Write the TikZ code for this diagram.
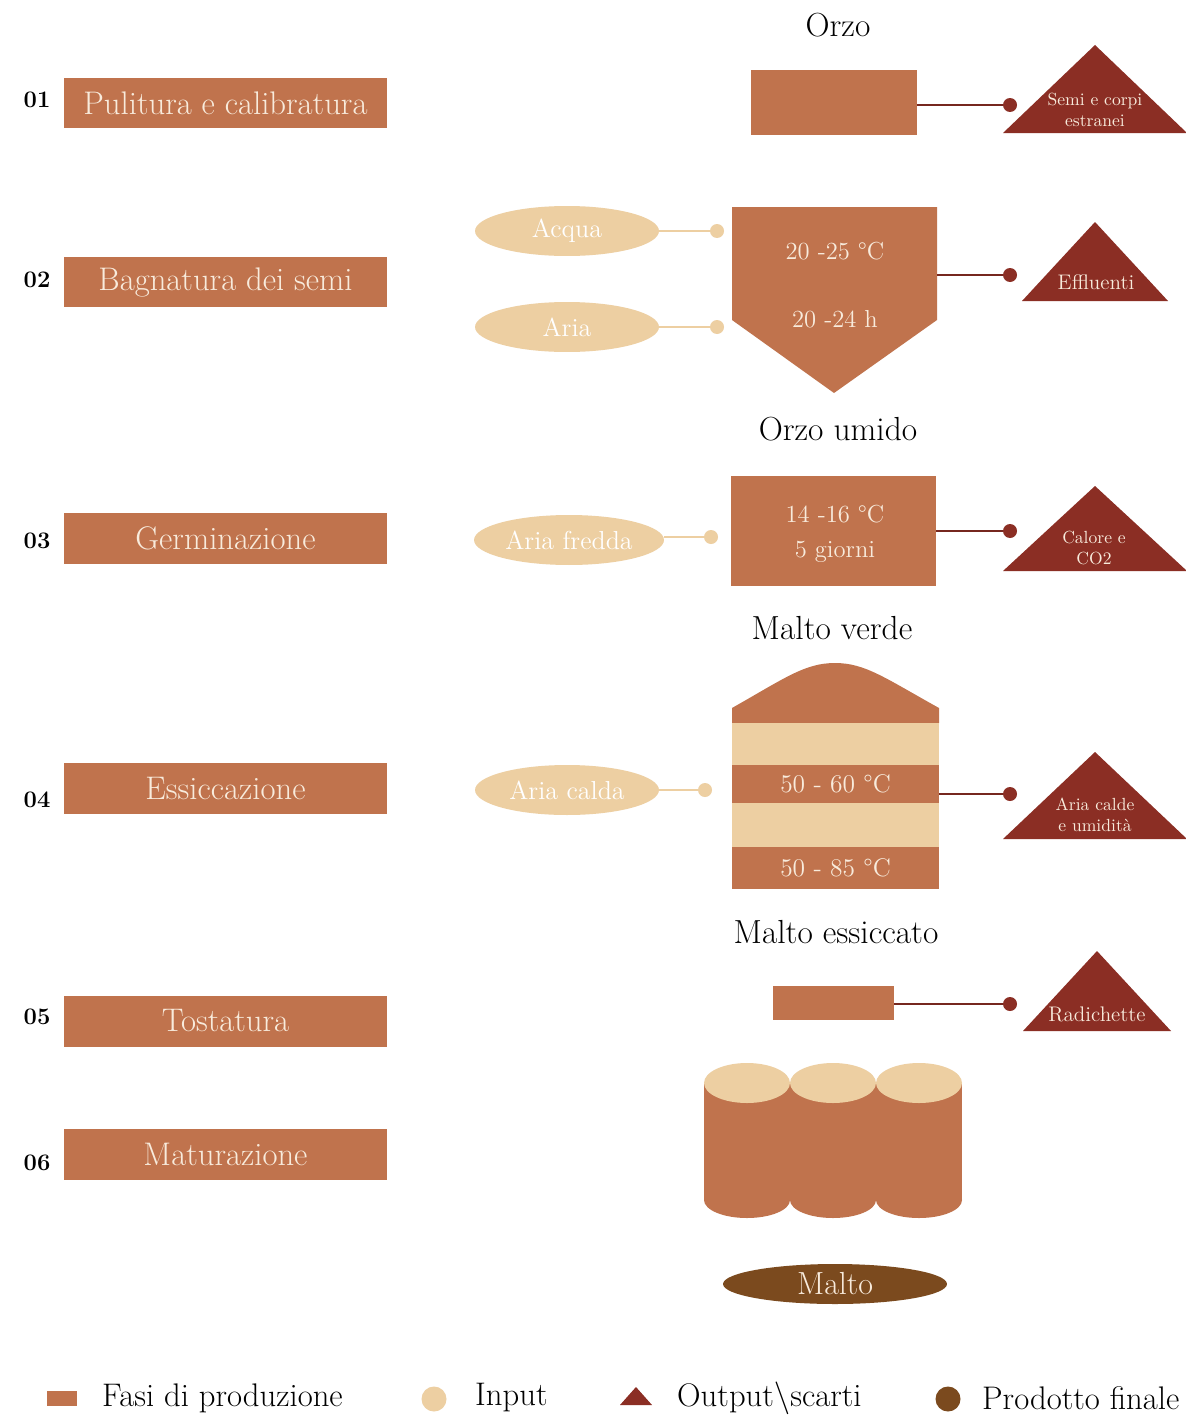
\documentclass[tikz,border=0pt]{standalone}
\usepackage{tikz}
\usetikzlibrary{shapes.geometric}

\definecolor{fase}{HTML}{C0734D}
\definecolor{inp}{HTML}{EDCFA2}
\definecolor{outp}{HTML}{8B2E24}
\definecolor{prod}{HTML}{7B4A1E}
\definecolor{chiaro}{HTML}{F8EBDC}

\tikzset{
  fasebox/.style={fill=fase, text=chiaro, inner sep=0pt, font=\fontsize{18.6}{22}\selectfont},
  numero/.style={font=\fontsize{13.5}{16}\selectfont\bfseries},
  titolo/.style={font=\fontsize{19}{22}\selectfont},
  valore/.style={text=chiaro, align=center, font=\fontsize{14}{20}\selectfont},
  inell/.style={ellipse, fill=inp, text=white, inner sep=0pt, minimum height=1cm, font=\fontsize{14.8}{17}\selectfont},
  indot/.style={circle, fill=inp, inner sep=0pt, minimum size=0.28cm},
  outdot/.style={circle, fill=outp, inner sep=0pt, minimum size=0.28cm},
  inlink/.style={inp, line width=1.1pt},
  outlink/.style={outp!85!black, line width=1.1pt},
  outtxt/.style={text=chiaro, align=center, font=\fontsize{10}{12}\selectfont},
  legenda/.style={anchor=west, font=\fontsize{18.6}{22}\selectfont}
}

\begin{document}
\begin{tikzpicture}[x=0.02cm, y=-0.02cm]
  \fill[white] (0,0) rectangle (1186,1416);
  \useasboundingbox (0,0) rectangle (1186,1416);

  % fasi di produzione
  \foreach \n/\yn/\yf/\t in {01/100/103/Pulitura e calibratura, 02/280/282/Bagnatura dei semi,
      03/541/538/Germinazione, 04/800/788/Essiccazione, 05/1017/1021/Tostatura, 06/1163/1154/Maturazione}{
    \node[numero] (n\n) at (37,\yn) {\n};
    \node[fasebox, minimum width=6.46cm, minimum height=1.02cm] (f\n) at (225.5,\yf) {\t};
  }

  % scarti
  \foreach \x/\ya/\yb/\w in {1095/45/133/92, 1095/222/301/73, 1095/486/571/92, 1095/752/839/92, 1097/951/1031/74}
    \fill[outp] (\x,\ya) -- (\x+\w,\yb) -- (\x-\w,\yb) -- cycle;
  \node[outtxt] (o1) at (1095,110) {Semi e corpi\\estranei};
  \node[outtxt, font=\fontsize{12}{14}\selectfont] (o2) at (1096,282) {Effluenti};
  \node[outtxt] (o3) at (1094,548) {Calore e\\CO2};
  \node[outtxt] (o4) at (1095,815) {Aria calde\\e umidità};
  \node[outtxt, font=\fontsize{12}{14}\selectfont] (o5) at (1097,1014) {Radichette};
  \foreach \i/\y in {1/105, 2/275, 3/531, 4/794, 5/1004}
    \node[outdot] (d\i) at (1010,\y) {};

  % 01
  \node[titolo] (l1) at (838,25) {Orzo};
  \node[fasebox, minimum width=3.32cm, minimum height=1.3cm] (r1) at (834,102.5) {};
  \draw[outlink] (r1.east |- d1) -- (d1);

  % 02
  \fill[fase] (732,207) -- (937,207) -- (937,320) -- (834,393) -- (732,320) -- cycle;
  \coordinate (r2) at (937,275);
  \node[valore] (v2a) at (835,251) {20 -25 \textdegree C};
  \node[valore] (v2b) at (835,319) {20 -24 h};
  \node[inell, minimum width=3.68cm] (acqua) at (567,231) {Acqua};
  \node[inell, minimum width=3.68cm] (aria) at (567,327) {Aria};
  \node[indot] (da) at (717,231) {};
  \node[indot] (db) at (717,327) {};
  \draw[inlink] (acqua) -- (da);
  \draw[inlink] (aria) -- (db);
  \draw[outlink] (r2) -- (d2);

  % 03
  \node[titolo] (l2) at (838,429) {Orzo umido};
  \node[fasebox, minimum width=4.1cm, minimum height=2.2cm] (r3) at (833.5,531) {};
  \node[valore] (v3) at (835,534) {14 -16 \textdegree C\\5 giorni};
  \node[inell, minimum width=3.8cm] (fredda) at (569,540) {Aria fredda};
  \node[indot] (dc) at (711,537) {};
  \draw[inlink] (fredda.east |- dc) -- (dc);
  \draw[outlink] (r3.east |- d3) -- (d3);

  % 04
  \node[titolo] (l3) at (832,628) {Malto verde};
  \fill[fase] (732,723) -- (732,708) .. controls (785,678) and (805,663) .. (835,663)
    .. controls (865,663) and (885,678) .. (939,708) -- (939,723) -- cycle;
  \node[fill=inp, inner sep=0pt, minimum width=4.14cm, minimum height=0.84cm] (s1) at (835.5,744) {};
  \node[fasebox, font=\fontsize{14.5}{16}\selectfont, minimum width=4.14cm, minimum height=0.76cm] (s2) at (835.5,784) {50 - 60 \textdegree C};
  \node[fill=inp, inner sep=0pt, minimum width=4.14cm, minimum height=0.88cm] (s3) at (835.5,825) {};
  \node[fasebox, font=\fontsize{14.5}{16}\selectfont, minimum width=4.14cm, minimum height=0.84cm] (s4) at (835.5,868) {50 - 85 \textdegree C};
  \node[inell, minimum width=3.68cm] (calda) at (567,790) {Aria calda};
  \node[indot] (dd) at (705,790) {};
  \draw[inlink] (calda) -- (dd);
  \draw[outlink] (s2.east |- d4) -- (d4);

  % 05
  \node[titolo] (l4) at (836,932) {Malto essiccato};
  \node[fasebox, minimum width=2.42cm, minimum height=0.68cm] (r5) at (833.5,1003) {};
  \draw[outlink] (r5.east |- d5) -- (d5);

  % 06
  \foreach \x in {747,833,919}{
    \fill[fase] (\x-43,1083) rectangle (\x+43,1200);
    \fill[fase] (\x,1200) ellipse [x radius=43, y radius=18];
  }
  \foreach \x in {747,833,919}
    \fill[inp] (\x,1083) ellipse [x radius=43, y radius=20];
  \node[ellipse, fill=prod, text=chiaro, inner sep=0pt, minimum width=4.48cm, minimum height=0.8cm,
    font=\fontsize{18.2}{21}\selectfont] (malto) at (835,1284) {Malto};

  % legenda
  \node[fill=fase, inner sep=0pt, minimum width=0.6cm, minimum height=0.3cm] (g1) at (62,1398) {};
  \node[legenda] (t1) at (96,1398) {Fasi di produzione};
  \node[indot, minimum size=0.5cm] (g2) at (434,1399) {};
  \node[legenda] (t2) at (469,1398) {Input};
  \fill[outp] (620,1405) -- (652,1405) -- (636,1387) -- cycle;
  \node[legenda] (t3) at (671,1398) {Output\textbackslash scarti};
  \node[circle, fill=prod, inner sep=0pt, minimum size=0.5cm] (g4) at (948,1399) {};
  \node[legenda] (t4) at (976,1398) {Prodotto finale};
\end{tikzpicture}
\end{document}
